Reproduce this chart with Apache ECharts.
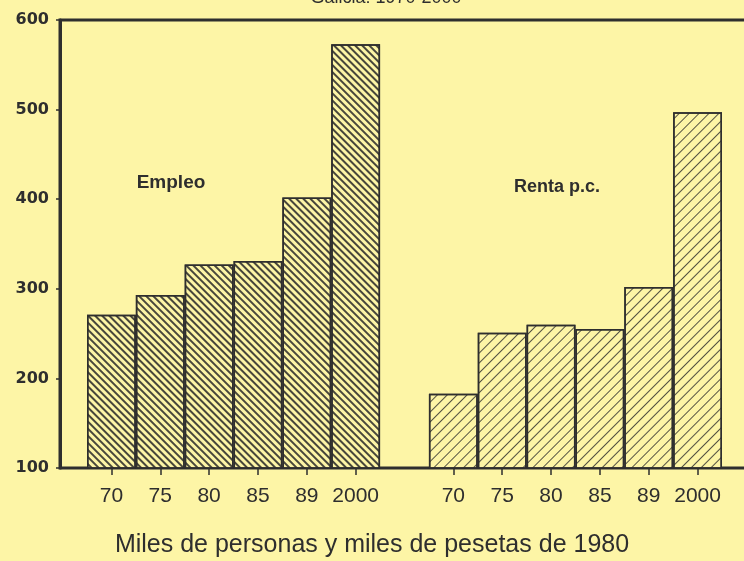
<!DOCTYPE html>
<html>
<head>
<meta charset="utf-8">
<script src="https://cdn.jsdelivr.net/npm/echarts@6/dist/echarts.min.js"></script>
<style>
  html, body { margin: 0; padding: 0; background: #fdf5a6; }
  #main { width: 744px; height: 561px; }
</style>
</head>
<body>
<div id="main"></div>
<script>
  // años de cada grupo (el hueco central es una categoría vacía)
  const years = ['70', '75', '80', '85', '89', '2000']
  const categories = years.concat([''], years)
  // Empleo: miles de personas
  const empleo = [271, 293, 327, 331, 402, 573]
  // Renta p.c.: miles de pesetas de 1980
  const renta = [183, 251, 260, 255, 302, 497]
  const yTicks = [100, 200, 300, 400, 500, 600]

  const gap = new Array(7).fill(null)
  const empleoData = empleo.concat(gap)
  const rentaData = gap.concat(renta)

  const bg = '#fdf5a6'
  const ink = '#2e2e2e'

  const chart = echarts.init(document.getElementById('main'))
  chart.setOption({
    backgroundColor: bg,
    animation: false,
    grid: [
      // marco y eje vertical (el borde derecho queda fuera de la imagen)
      { left: 60, top: 20, right: -60, bottom: 93, outerBoundsMode: 'none', containLabel: false, show: true, borderColor: ink, borderWidth: 3, backgroundColor: 'transparent' },
      // barras
      { left: 87, top: 20, right: 22, bottom: 93, outerBoundsMode: 'none' }
    ],
    xAxis: [
      { gridIndex: 0, type: 'value', show: false },
      {
        gridIndex: 1,
        type: 'category',
        data: categories,
        axisLine: { show: false },
        axisTick: {
          show: true,
          alignWithLabel: true,
          length: 7,
          interval: (i, v) => v !== '',
          lineStyle: { color: ink, width: 1.5 }
        },
        axisLabel: {
          margin: 18,
          color: ink,
          fontSize: 21,
          fontFamily: 'Liberation Sans',
          interval: 0
        }
      }
    ],
    yAxis: [
      {
        gridIndex: 0,
        type: 'value',
        min: yTicks[0],
        max: yTicks[yTicks.length - 1],
        interval: 100,
        splitLine: { show: false },
        axisLine: { show: true, lineStyle: { color: ink, width: 3 } },
        axisTick: { show: true, length: 4, lineStyle: { color: ink, width: 1.5 } },
        axisLabel: { color: ink, fontSize: 16, fontWeight: 'bold', fontFamily: 'DejaVu Sans', margin: 11 }
      },
      { gridIndex: 1, type: 'value', min: 100, max: 600, show: false }
    ],
    series: [
      {
        name: 'Empleo',
        type: 'bar',
        xAxisIndex: 1,
        yAxisIndex: 1,
        data: empleoData,
        barGap: '-100%',
        barCategoryGap: 0,
        itemStyle: {
          color: bg,
          borderColor: ink,
          borderWidth: 1.5,
          decal: {
            symbol: 'rect',
            symbolSize: 1,
            color: 'rgba(40,40,40,0.85)',
            dashArrayX: [1, 0],
            dashArrayY: [1.2, 2.4],
            rotation: Math.PI / 4
          }
        }
      },
      {
        name: 'Renta p.c.',
        type: 'bar',
        xAxisIndex: 1,
        yAxisIndex: 1,
        data: rentaData,
        barGap: '-100%',
        barCategoryGap: 0,
        itemStyle: {
          color: bg,
          borderColor: ink,
          borderWidth: 1.5,
          decal: {
            symbol: 'rect',
            symbolSize: 1,
            color: 'rgba(40,40,40,0.8)',
            dashArrayX: [1, 0],
            dashArrayY: [1, 5.4],
            rotation: -Math.PI / 4
          }
        }
      }
    ],
    graphic: [
      {
        type: 'text', x: 386, y: -11,
        style: { text: 'Galicia: 1970-2000', fill: ink, font: '18px Liberation Sans', align: 'center' }
      },
      {
        type: 'text', x: 171, y: 183,
        style: { text: 'Empleo', fill: ink, font: 'bold 19px Liberation Sans', align: 'center', verticalAlign: 'middle' }
      },
      {
        type: 'text', x: 557, y: 187,
        style: { text: 'Renta p.c.', fill: ink, font: 'bold 18px Liberation Sans', align: 'center', verticalAlign: 'middle' }
      },
      {
        type: 'text', x: 372, y: 545,
        style: { text: 'Miles de personas y miles de pesetas de 1980', fill: ink, font: '25px Liberation Sans', align: 'center', verticalAlign: 'middle' }
      }
    ]
  })
</script>
</body>
</html>
